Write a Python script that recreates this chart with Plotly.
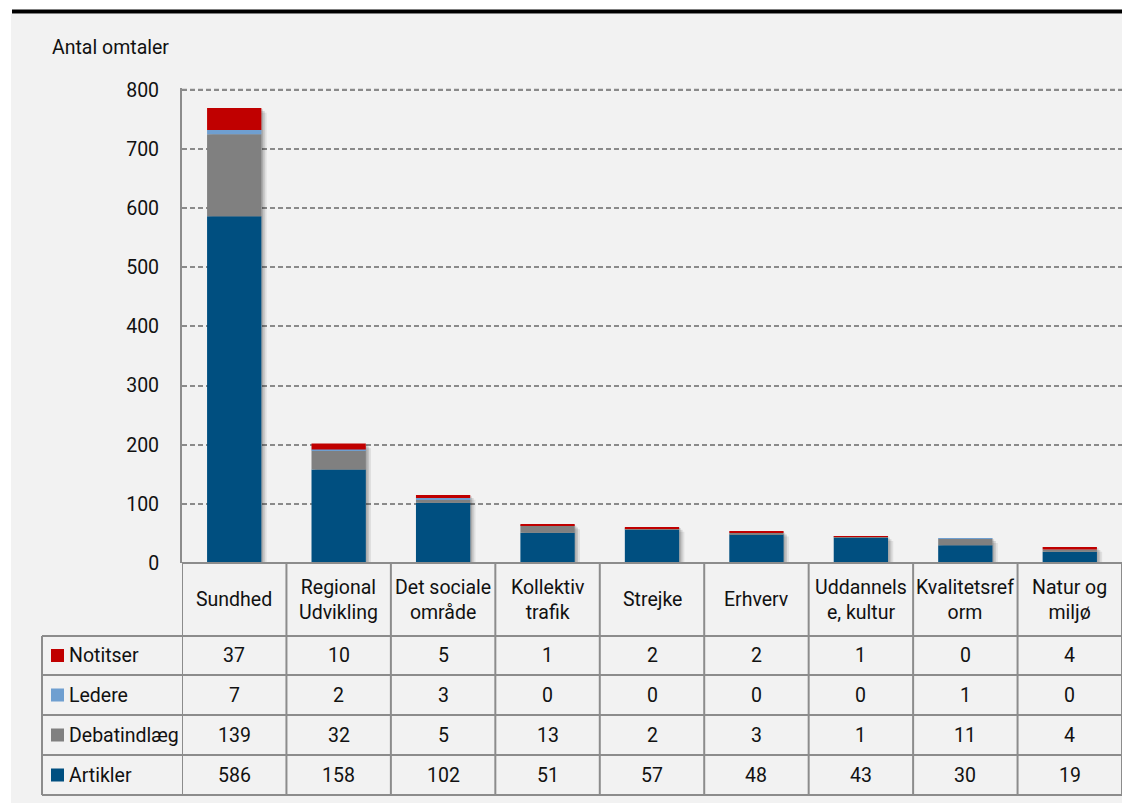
import numpy as np
import plotly.graph_objects as go

# ---------------- data ----------------
categories = ["Sundhed", "Regional<br>Udvikling", "Det sociale<br>område", "Kollektiv<br>trafik",
              "Strejke", "Erhverv", "Uddannels<br>e, kultur", "Kvalitetsref<br>orm", "Natur og<br>miljø"]
artikler = [586, 158, 102, 51, 57, 48, 43, 30, 19]
debatindlaeg = [139, 32, 5, 13, 2, 3, 1, 11, 4]
ledere = [7, 2, 3, 0, 0, 0, 0, 1, 0]
notitser = [37, 10, 5, 1, 2, 2, 1, 0, 4]
y_ticks = [0, 100, 200, 300, 400, 500, 600, 700, 800]
y_title = "Antal omtaler"

series = [("Artikler", artikler, "#004f80"),
          ("Debatindlæg", debatindlaeg, "#808080"),
          ("Ledere", ledere, "#6f9fd0"),
          ("Notitser", notitser, "#c00000")]
table_rows = ["Notitser", "Ledere", "Debatindlæg", "Artikler"]  # top to bottom

# ---------------- layout constants ----------------
OFF = 8                      # page body margin
W, H = 1122, 795
L, R, T, B = 174, 8, 80, 240
PLOT_H = H - T - B
FONT = "Roboto, 'DejaVu Sans Condensed', sans-serif"
FS = 19.5
LINE = "#8c8c8c"
GRID = "#8a8a8a"
GRID_DASH = "5px,3px"
BAR_W = 0.52
Y_MAX = 803  # a little headroom so the 800 gridline is drawn inside the plot


def py(p):
    """page pixel y -> paper y"""
    return (H - B - (p - OFF)) / PLOT_H


def px(p):
    """page pixel x -> paper x"""
    return (p - OFF - L) / (W - L - R)


n = len(categories)
xs = list(range(n))
fig = go.Figure()

# top gridline at the highest tick, drawn as a line across the category range
fig.add_trace(go.Scatter(x=[-0.5, n - 0.5], y=[y_ticks[-1], y_ticks[-1]], mode="lines",
                         line=dict(color=GRID, width=2, dash=GRID_DASH),
                         hoverinfo="skip", showlegend=False, cliponaxis=False))

# soft shadow behind bars
totals = np.sum([artikler, debatindlaeg, ledere, notitser], axis=0)
for dx, dy, a in [(0.05, 8, 0.08), (0.032, 5, 0.12), (0.016, 2, 0.12)]:
    fig.add_trace(go.Bar(x=xs, y=totals, base=-dy, width=BAR_W, offset=-BAR_W / 2 + dx,
                         marker=dict(color=f"rgba(0,0,0,{a})", line=dict(width=0)),
                         hoverinfo="skip", showlegend=False))

base = np.zeros(n)
for name, vals, col in series:
    fig.add_trace(go.Bar(x=xs, y=vals, base=base.copy(), name=name, width=BAR_W,
                         offset=-BAR_W / 2,
                         marker=dict(color=col, line=dict(width=0)), showlegend=False))
    base = base + np.array(vals)

shapes = []
# panel background and top black rule
shapes.append(dict(type="rect", xref="paper", yref="paper", x0=px(11), x1=px(1130), y0=py(803), y1=py(14),
                   fillcolor="#f2f2f2", line=dict(width=0), layer="below"))
shapes.append(dict(type="rect", xref="paper", yref="paper", x0=px(12), x1=px(1130), y0=py(13.5), y1=py(9.5),
                   fillcolor="#000000", line=dict(width=0)))

# table lines
row_edges = [636, 675, 715, 755, 795]
for yy in [563] + row_edges:
    x0 = px(182) if yy == 563 else px(42)
    shapes.append(dict(type="line", xref="paper", yref="paper", x0=x0, x1=1.0, y0=py(yy), y1=py(yy),
                       line=dict(color=LINE, width=2)))
for k in range(n + 1):
    shapes.append(dict(type="line", xref="x", yref="paper", x0=k - 0.5, x1=k - 0.5, y0=py(563), y1=py(795),
                       line=dict(color=LINE, width=2)))
shapes.append(dict(type="line", xref="paper", yref="paper", x0=px(42), x1=px(42), y0=py(636), y1=py(795),
                   line=dict(color=LINE, width=2)))

annotations = []
# y-axis title
annotations.append(dict(text=y_title, xref="paper", yref="paper", x=px(50), y=py(47), xanchor="left",
                        yanchor="middle", showarrow=False, font=dict(family=FONT, size=FS, color="#111")))
# category header labels
for i, c in enumerate(categories):
    annotations.append(dict(text=c, xref="x", yref="paper", x=i, y=py(599.5), xanchor="center",
                            yanchor="middle", showarrow=False,
                            font=dict(family=FONT, size=FS, color="#111")))
# table rows
data_by_name = {nm: (v, c) for nm, v, c in series}
for r, nm in enumerate(table_rows):
    vals, col = data_by_name[nm]
    ymid = (row_edges[r] + row_edges[r + 1]) / 2
    shapes.append(dict(type="rect", xref="paper", yref="paper", x0=px(51), x1=px(64),
                       y0=py(ymid + 6.5), y1=py(ymid - 6.5), fillcolor=col, line=dict(width=0)))
    annotations.append(dict(text=nm, xref="paper", yref="paper", x=px(67), y=py(ymid), xanchor="left",
                            yanchor="middle", showarrow=False,
                            font=dict(family=FONT, size=FS, color="#111")))
    for i, v in enumerate(vals):
        annotations.append(dict(text=str(v), xref="x", yref="paper", x=i, y=py(ymid), xanchor="center",
                                yanchor="middle", showarrow=False,
                                font=dict(family=FONT, size=FS, color="#111")))

fig.update_layout(
    width=W, height=H,
    margin=dict(l=L, r=R, t=T, b=B, pad=0),
    paper_bgcolor="#ffffff", plot_bgcolor="rgba(0,0,0,0)",
    barmode="overlay",
    shapes=shapes, annotations=annotations,
    font=dict(family=FONT, size=FS, color="#111"),
    xaxis=dict(range=[-0.5, n - 0.5], showticklabels=False, showgrid=False, zeroline=False,
               showline=False, ticks="", fixedrange=True),
    yaxis=dict(range=[0, Y_MAX], tickvals=y_ticks, showgrid=True, gridcolor=GRID, griddash=GRID_DASH,
               gridwidth=2, zeroline=False, showline=True, linecolor=LINE, linewidth=2,
               ticks="", ticklabelstandoff=17, tickfont=dict(family=FONT, size=FS, color="#111"),
               fixedrange=True),
)

fig.write_html("out.html")
